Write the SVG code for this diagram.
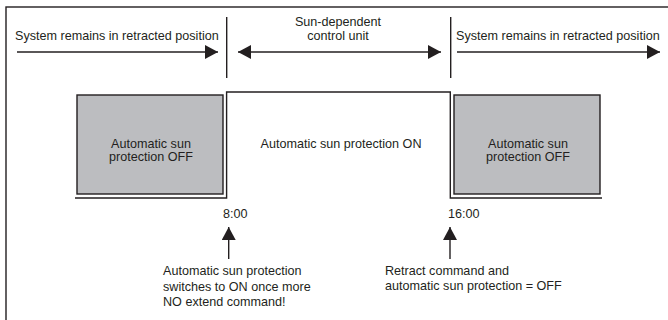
<svg xmlns="http://www.w3.org/2000/svg" width="668" height="320" viewBox="0 0 668 320">
<style>
text{font-family:"Liberation Sans",Arial,sans-serif;font-size:12.6px;fill:#231f20}
.ln{stroke:#231f20;stroke-width:1.4;fill:none}
.box{fill:#bcbdc0;stroke:#231f20;stroke-width:1.4}
.mid{text-anchor:middle}
</style>
<defs>
<marker id="ah" viewBox="0 0 13 14" refX="13" refY="7" markerWidth="13" markerHeight="14" markerUnits="userSpaceOnUse" orient="auto-start-reverse">
<path d="M0,0 L13,7 L0,14 Z" fill="#231f20"/>
</marker>
</defs>
<rect x="6" y="7" width="700" height="340" fill="none" stroke="#231f20" stroke-width="1.4"/>
<g id="connectors">
<line class="ln" x1="226.7" y1="17" x2="226.7" y2="78"/>
<line class="ln" x1="450.7" y1="17" x2="450.7" y2="78"/>
<line class="ln" x1="17" y1="52" x2="218" y2="52" marker-end="url(#ah)"/>
<line class="ln" x1="238" y1="52" x2="441" y2="52" marker-start="url(#ah)" marker-end="url(#ah)"/>
<line class="ln" x1="457" y1="52" x2="660" y2="52" marker-end="url(#ah)"/>
<path id="signal" class="ln" d="M75,198 H226.6 V92 H450.3 V198 H602"/>
<line class="ln" x1="228.7" y1="259" x2="228.7" y2="227" marker-end="url(#ah)"/>
<line class="ln" x1="450" y1="259" x2="450" y2="227" marker-end="url(#ah)"/>
</g>
<g id="label-left">
<text x="15" y="40">System remains in retracted position</text>
</g>
<g id="label-middle">
<text class="mid" x="338" y="26">Sun-dependent</text>
<text class="mid" x="338" y="40">control unit</text>
</g>
<g id="label-right">
<text x="456" y="40">System remains in retracted position</text>
</g>
<g id="box-off-left">
<rect class="box" x="77" y="95" width="146" height="99"/>
<text class="mid" x="151" y="148">Automatic sun</text>
<text class="mid" x="151" y="161">protection OFF</text>
</g>
<g id="state-on">
<text class="mid" x="341" y="148">Automatic sun protection ON</text>
</g>
<g id="box-off-right">
<rect class="box" x="454" y="95" width="146" height="99"/>
<text class="mid" x="528" y="148">Automatic sun</text>
<text class="mid" x="528" y="161">protection OFF</text>
</g>
<g id="time-800">
<text x="223" y="218">8:00</text>
</g>
<g id="time-1600">
<text x="448" y="218">16:00</text>
</g>
<g id="note-on">
<text x="163" y="275">Automatic sun protection</text>
<text x="163" y="290.5">switches to ON once more</text>
<text x="163" y="306">NO extend command!</text>
</g>
<g id="note-off">
<text x="385" y="274.5">Retract command and</text>
<text x="385" y="290">automatic sun protection = OFF</text>
</g>
</svg>
